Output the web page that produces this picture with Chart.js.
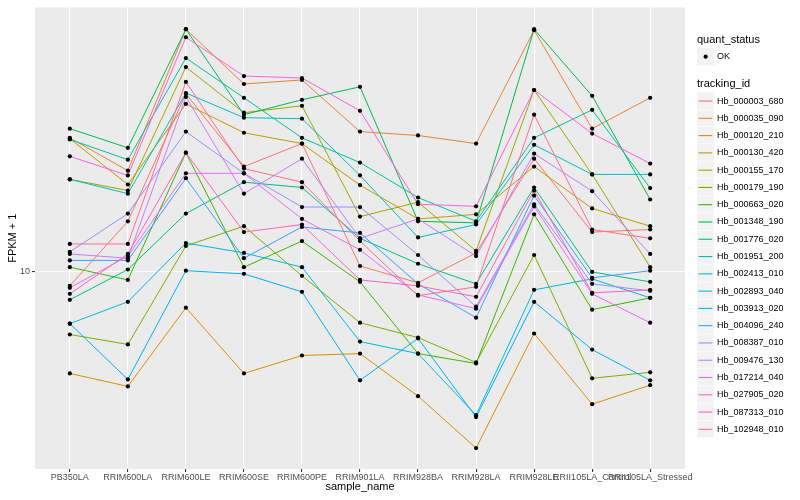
<!DOCTYPE html>
<html>
<head>
<meta charset="utf-8">
<script src="https://cdn.jsdelivr.net/npm/chart.js@4.4.1/dist/chart.umd.min.js"></script>
<style>
  html, body { margin: 0; padding: 0; background: #ffffff; }
</style>
</head>
<body>
<canvas id="myChart" width="800" height="500"></canvas>
<script>
// categories on the x axis
var samples = ["PB350LA", "RRIM600LA", "RRIM600LE", "RRIM600SE", "RRIM600PE", "RRIM901LA",
  "RRIM928BA", "RRIM928LA", "RRIM928LE", "RRII105LA_Control", "RRII105LA_Stressed"];

var trackingIds = ["Hb_000003_680", "Hb_000035_090", "Hb_000120_210", "Hb_000130_420", "Hb_000155_170",
  "Hb_000179_190", "Hb_000663_020", "Hb_001348_190", "Hb_001776_020", "Hb_001951_200",
  "Hb_002413_010", "Hb_002893_040", "Hb_003913_020", "Hb_004096_240", "Hb_008387_010",
  "Hb_009476_130", "Hb_017214_040", "Hb_027905_020", "Hb_087313_010", "Hb_102948_010"];

var colors = ["#F8766D", "#EA8331", "#D89000", "#C09B00", "#A3A500", "#7CAE00", "#39B600", "#00BB4E",
  "#00BF7D", "#00C1A3", "#00BFC4", "#00BAE0", "#00B0F6", "#35A2FF", "#9590FF", "#C77CFF",
  "#E76BF3", "#FA62DB", "#FF62BC", "#FF6C91"];

// FPKM + 1, one value per sample
var hb_000003_680 = [8.91, 15.2, 43.6, 23.9, 28.9, 10.5, 9.14, 11.7, 25.5, 13.9, 14.2];
var hb_000035_090 = [30.3, 23.1, 74.4, 47.3, 48.9, 31.9, 30.9, 28.9, 73.8, 32.7, 42.2];
var hb_000120_210 = [4.32, 3.88, 7.44, 4.32, 5.01, 5.09, 3.58, 2.33, 6.01, 3.35, 3.92];
var hb_000130_420 = [30.1, 20.6, 40.1, 31.6, 28.9, 20.5, 15.5, 16.1, 23.9, 16.9, 14.6];
var hb_000155_170 = [21.5, 19.6, 54.4, 37.3, 39.5, 15.8, 17.8, 11.9, 45.0, 22.4, 10.4];
var hb_000179_190 = [5.96, 5.49, 12.4, 14.6, 9.68, 6.57, 5.81, 4.73, 11.5, 4.15, 4.36];
var hb_000663_020 = [10.4, 9.36, 26.8, 10.4, 12.9, 9.21, 5.09, 4.69, 16.1, 7.32, 8.07];
var hb_001348_190 = [32.7, 27.9, 74.4, 36.7, 41.5, 46.2, 15.2, 15.0, 74.4, 42.9, 18.2];
var hb_001776_020 = [7.94, 10.2, 16.2, 21.0, 20.1, 13.2, 10.7, 9.06, 20.1, 10.0, 9.21];
var hb_001951_200 = [29.9, 25.3, 58.6, 42.2, 30.3, 24.7, 18.5, 15.2, 30.3, 38.2, 20.0];
var hb_002413_010 = [21.5, 19.1, 43.9, 35.8, 35.5, 22.2, 13.3, 14.8, 28.6, 22.4, 22.4];
var hb_002893_040 = [6.52, 7.81, 12.7, 11.7, 10.4, 5.62, 5.09, 3.06, 8.62, 9.44, 8.07];
var hb_003913_020 = [6.52, 4.11, 10.1, 9.84, 8.48, 4.08, 5.77, 3.01, 7.81, 5.26, 4.08];
var hb_004096_240 = [11.0, 11.0, 21.7, 11.2, 14.5, 13.8, 9.06, 6.85, 18.8, 9.52, 10.1];
var hb_008387_010 = [11.8, 16.2, 31.9, 22.6, 17.1, 17.1, 11.5, 7.50, 17.5, 9.06, 8.55];
var hb_009476_130 = [11.6, 11.2, 42.5, 19.1, 25.5, 13.2, 15.5, 11.4, 26.6, 19.5, 11.6];
var hb_017214_040 = [8.77, 11.4, 22.6, 22.6, 15.5, 12.0, 8.27, 7.38, 17.2, 8.34, 6.57];
var hb_027905_020 = [26.0, 22.2, 69.6, 50.5, 49.7, 37.9, 17.5, 17.2, 45.0, 31.4, 24.5];
var hb_087313_010 = [8.34, 11.6, 26.8, 13.9, 14.8, 9.36, 8.91, 8.14, 19.6, 8.41, 8.62];
var hb_102948_010 = [12.6, 12.6, 48.1, 23.5, 21.0, 12.9, 8.21, 8.84, 36.7, 14.2, 13.2];

var series = [hb_000003_680, hb_000035_090, hb_000120_210, hb_000130_420, hb_000155_170,
  hb_000179_190, hb_000663_020, hb_001348_190, hb_001776_020, hb_001951_200,
  hb_002413_010, hb_002893_040, hb_003913_020, hb_004096_240, hb_008387_010,
  hb_009476_130, hb_017214_040, hb_027905_020, hb_087313_010, hb_102948_010];

var yTicks = [10];

const FONT = "'Liberation Sans', Arial, sans-serif";

function toXY(vals) {
  return vals.map(function (v, j) { return { x: j, y: v }; });
}

var datasets = series.map(function (vals, i) {
  return {
    label: trackingIds[i],
    data: toXY(vals),
    borderColor: colors[i],
    borderWidth: 1,
    pointRadius: 0,
    pointHoverRadius: 0,
    fill: false,
    tension: 0,
    order: 100 - i,
  };
});

// all the black points on top of the lines
datasets.push({
  label: "OK",
  data: series.flatMap(toXY),
  showLine: false,
  pointRadius: 2.1,
  pointHoverRadius: 2.1,
  pointBackgroundColor: "#000000",
  pointBorderWidth: 0,
  order: 0,
});

// panel background, axis titles and the ggplot style legend
const ggPlugin = {
  id: "gg",
  beforeDraw: function (chart) {
    var c = chart.ctx, a = chart.chartArea;
    c.save();
    c.fillStyle = "#FFFFFF";
    c.fillRect(0, 0, chart.width, chart.height);
    c.fillStyle = "#EBEBEB";
    c.fillRect(a.left, a.top, a.right - a.left, a.bottom - a.top);
    c.restore();
  },
  afterDraw: function (chart) {
    var c = chart.ctx, a = chart.chartArea;
    c.save();
    c.fillStyle = "#000000";
    c.textBaseline = "middle";

    // axis titles
    c.font = "11px " + FONT;
    c.textAlign = "center";
    c.fillText("sample_name", (a.left + a.right) / 2, 487);
    c.save();
    c.translate(13, (a.top + a.bottom) / 2);
    c.rotate(-Math.PI / 2);
    c.fillText("FPKM + 1", 0, 0);
    c.restore();

    // legend
    var lx = 697, key = 17.28;
    c.textAlign = "left";
    c.font = "11px " + FONT;
    c.fillText("quant_status", lx, 40);
    c.fillStyle = "#F2F2F2";
    c.fillRect(lx, 48, key, key);
    c.fillStyle = "#000000";
    c.beginPath();
    c.arc(lx + key / 2, 48 + key / 2, 2.1, 0, Math.PI * 2);
    c.fill();
    c.font = "9px " + FONT;
    c.fillText("OK", 717, 57);

    c.font = "11px " + FONT;
    c.fillText("tracking_id", lx, 84);
    c.font = "9px " + FONT;
    for (var i = 0; i < trackingIds.length; i++) {
      var y0 = 92.4 + i * key;
      c.fillStyle = "#F2F2F2";
      c.fillRect(lx, y0, key - 0.6, key - 0.6);
      c.strokeStyle = colors[i];
      c.lineWidth = 1.1;
      c.beginPath();
      c.moveTo(lx + 1.5, y0 + key / 2);
      c.lineTo(lx + key - 2, y0 + key / 2);
      c.stroke();
      c.fillStyle = "#000000";
      c.fillText(trackingIds[i], 717, y0 + key / 2);
    }
    c.restore();
  },
};

const ctx = document.getElementById("myChart").getContext("2d");
const myChart = new Chart(ctx, {
  type: "line",
  data: { datasets: datasets },
  plugins: [ggPlugin],
  options: {
    responsive: false,
    animation: false,
    layout: { padding: { left: 0, right: 115, top: 5, bottom: 0 } },
    interaction: { mode: null },
    scales: {
      x: {
        type: "linear",
        min: -0.6,
        max: samples.length - 1 + 0.6,
        afterBuildTicks: function (scale) {
          scale.ticks = samples.map(function (s, i) { return { value: i }; });
        },
        afterFit: function (scale) { scale.height = 31; },
        grid: { color: "#FFFFFF", lineWidth: 1.1, tickColor: "#333333", tickLength: 3 },
        border: { display: false },
        ticks: {
          autoSkip: false,
          maxRotation: 0,
          minRotation: 0,
          padding: 0,
          color: "#4D4D4D",
          font: { family: FONT, size: 9 },
          callback: function (value) { return samples[value]; },
        },
      },
      y: {
        type: "logarithmic",
        min: 1.96,
        max: 89.1,
        afterBuildTicks: function (scale) {
          scale.ticks = yTicks.map(function (v) { return { value: v }; });
        },
        afterFit: function (scale) { scale.width = 35; },
        grid: { color: "#FFFFFF", lineWidth: 1.1, tickColor: "#333333", tickLength: 3 },
        border: { display: false },
        ticks: {
          padding: 2,
          color: "#4D4D4D",
          font: { family: FONT, size: 9 },
          callback: function (value) { return String(value); },
        },
      },
    },
    plugins: {
      legend: { display: false },
      tooltip: { enabled: false },
    },
  },
});
</script>
</body>
</html>
